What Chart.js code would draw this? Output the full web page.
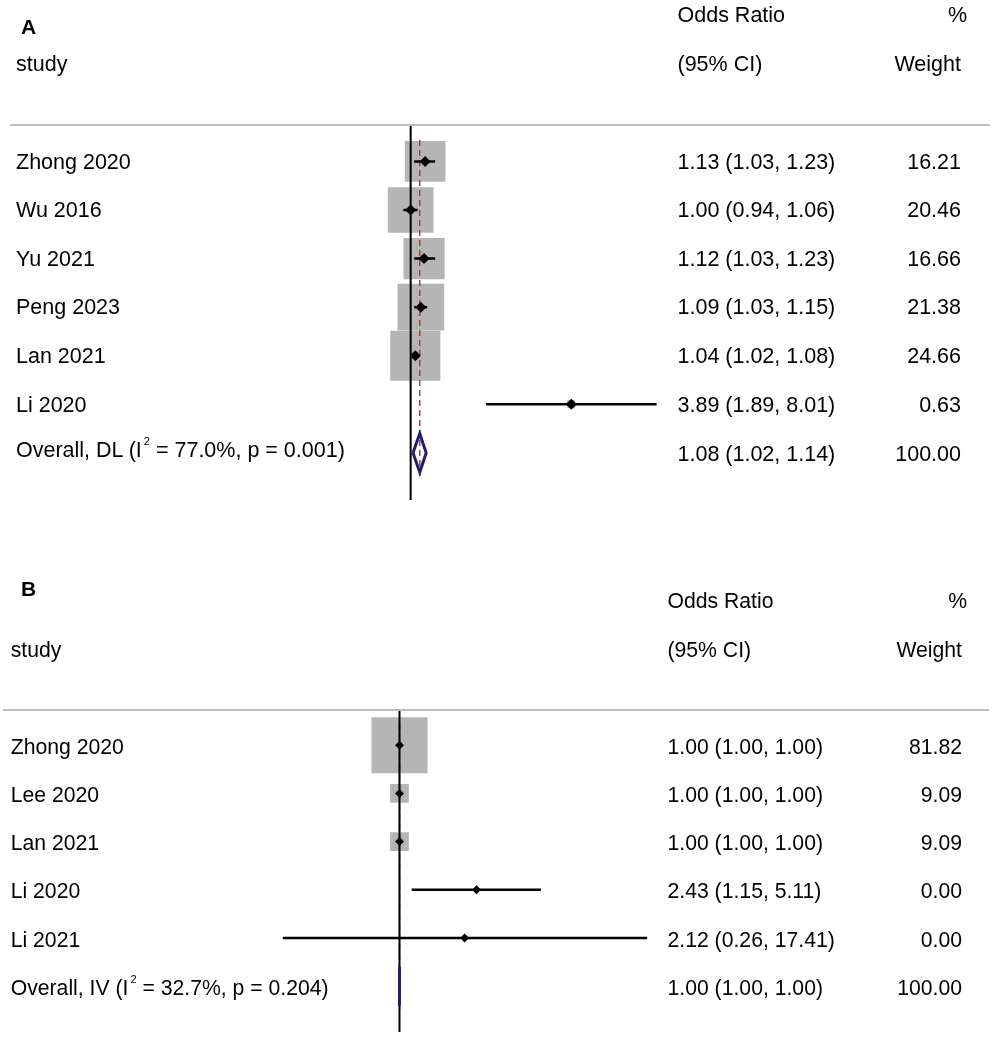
<!DOCTYPE html>
<html>
<head>
<meta charset="utf-8">
<title>Forest plots</title>
<script src="https://cdn.jsdelivr.net/npm/chart.js@4.4.1/dist/chart.umd.min.js"></script>
<style>
  body { margin: 0; background: #fff; }
  #page {
    position: relative; width: 999px; height: 1041px; overflow: hidden; background: #fff;
    font-family: "Liberation Sans", Arial, sans-serif; color: #000;
  }
  #page canvas { position: absolute; left: 0; }
  .txt { position: absolute; white-space: nowrap; }
  .bold { font-weight: bold; }
  .rule { position: absolute; height: 2px; background: #bdbdbd; }
  sup { font-size: 11px; line-height: 0; vertical-align: 12px; margin-left: 2px; }
</style>
</head>
<body>
<div id="page">
  <canvas id="forestA" width="999" height="520" style="top:0px"></canvas>
  <canvas id="forestB" width="999" height="481" style="top:560px"></canvas>
</div>
<script>
// Panel A - data
const studiesA = ['Zhong 2020', 'Wu 2016', 'Yu 2021', 'Peng 2023', 'Lan 2021', 'Li 2020'];
const orA = [1.13, 1.00, 1.12, 1.09, 1.04, 3.89];
const lowA = [1.03, 0.94, 1.03, 1.03, 1.02, 1.89];
const highA = [1.23, 1.06, 1.23, 1.15, 1.08, 8.01];
const weightA = [16.21, 20.46, 16.66, 21.38, 24.66, 0.63];
const overallA = [1.08, 1.02, 1.14]; // estimate, low, high
const overallLabelA = 'Overall, DL (I<sup>2</sup> = 77.0%, p = 0.001)';

// Panel B - data
const studiesB = ['Zhong 2020', 'Lee 2020', 'Lan 2021', 'Li 2020', 'Li 2021'];
const orB = [1.00, 1.00, 1.00, 2.43, 2.12];
const lowB = [1.00, 1.00, 1.00, 1.15, 0.26];
const highB = [1.00, 1.00, 1.00, 5.11, 17.41];
const weightB = [81.82, 9.09, 9.09, 0.00, 0.00];
const overallB = [1.00, 1.00, 1.00];
const overallLabelB = 'Overall, IV (I<sup>2</sup> = 32.7%, p = 0.204)';

// Column headers
const headerLeft = 'study';
const headerOR = ['Odds Ratio', '(95% CI)'];
const headerWeight = ['%', 'Weight'];

document.addEventListener('DOMContentLoaded', function() {
  const page = document.getElementById('page');
  const PAGE_W = 999;

  // Hàm thêm một dòng chữ, vị trí theo baseline
  function addText(html, x, baseline, align, size, cls) {
    const el = document.createElement('div');
    el.className = 'txt' + (cls ? ' ' + cls : '');
    el.innerHTML = html;
    el.style.fontSize = size + 'px';
    el.style.lineHeight = size + 'px';
    el.style.top = (baseline - 0.8465 * size) + 'px';
    if (align === 'right') {
      el.style.right = (PAGE_W - x) + 'px';
    } else {
      el.style.left = x + 'px';
    }
    page.appendChild(el);
  }

  function addRule(left, top, width) {
    const el = document.createElement('div');
    el.className = 'rule';
    el.style.left = left + 'px';
    el.style.top = top + 'px';
    el.style.width = width + 'px';
    page.appendChild(el);
  }

  // Hàm vẽ một forest plot
  function buildForest(canvasId, p) {
    const n = p.studies.length;
    const fs = p.fontSize;
    const datasets = [];

    // overall diamond
    const est = p.overall[0], lo = p.overall[1], hi = p.overall[2];
    datasets.push({
      data: [
        { x: lo, y: n }, { x: est, y: n - 0.4 }, { x: hi, y: n },
        { x: est, y: n + 0.4 }, { x: lo, y: n }
      ],
      showLine: true,
      borderColor: '#1e1e6e',
      borderWidth: 3,
      borderJoinStyle: 'miter',
      pointRadius: 0,
      tension: 0,
      order: 0
    });

    // point estimates
    datasets.push({
      data: p.or.map((v, i) => ({ x: v, y: i })),
      pointStyle: 'rectRot',
      pointRadius: p.dotRadius,
      backgroundColor: '#000',
      borderWidth: 0,
      order: 1
    });

    // confidence intervals
    p.studies.forEach((s, i) => {
      datasets.push({
        data: [{ x: p.low[i], y: i }, { x: p.high[i], y: i }],
        showLine: true,
        borderColor: '#000',
        borderWidth: 2.5,
        pointRadius: 0,
        order: 2
      });
    });

    // null line (OR = 1)
    datasets.push({
      data: [{ x: 1, y: p.yMin }, { x: 1, y: p.yMax }],
      showLine: true,
      borderColor: '#000',
      borderWidth: 2,
      pointRadius: 0,
      order: 3
    });

    // overall estimate line
    datasets.push({
      data: [{ x: est, y: -0.44 }, { x: est, y: n + 0.52 }],
      showLine: true,
      borderColor: '#9e4444',
      borderWidth: 1.5,
      borderDash: [6, 4],
      pointRadius: 0,
      order: 4
    });

    // weight boxes
    datasets.push({
      data: p.or.map((v, i) => ({ x: v, y: i })),
      pointStyle: 'rect',
      pointRadius: p.weight.map(w => p.boxScale * Math.sqrt(w) / Math.SQRT2),
      backgroundColor: '#b5b5b5',
      borderWidth: 0,
      order: 5
    });

    const chart = new Chart(document.getElementById(canvasId), {
      type: 'scatter',
      data: { datasets: datasets },
      options: {
        responsive: false,
        animation: false,
        events: [],
        layout: { padding: p.padding, autoPadding: false },
        plugins: {
          legend: { display: false },
          tooltip: { enabled: false }
        },
        scales: {
          x: { type: 'logarithmic', min: p.xMin, max: p.xMax, bounds: 'data', display: false },
          y: { type: 'linear', min: p.yMin, max: p.yMax, bounds: 'data', reverse: true, display: false }
        }
      }
    });

    // Hiển thị chữ theo hàng của trục y
    const yScale = chart.scales.y;
    const rowBase = i => p.top + yScale.getPixelForValue(i) + 8.5;

    p.studies.forEach((s, i) => {
      addText(s, p.textLeft, rowBase(i), 'left', fs);
      addText(p.or[i].toFixed(2) + ' (' + p.low[i].toFixed(2) + ', ' + p.high[i].toFixed(2) + ')',
        p.orLeft, rowBase(i), 'left', fs);
      addText(p.weight[i].toFixed(2), p.weightRight, rowBase(i), 'right', fs);
    });
    addText(p.overallLabel, p.textLeft, rowBase(n) + p.overallShift, 'left', fs);
    addText(est.toFixed(2) + ' (' + lo.toFixed(2) + ', ' + hi.toFixed(2) + ')',
      p.orLeft, rowBase(n) + p.overallShiftRight, 'left', fs);
    addText((100).toFixed(2), p.weightRight, rowBase(n) + p.overallShiftRight, 'right', fs);

    // Tiêu đề
    addText(p.panel, 21, p.head[0], 'left', 21, 'bold');
    addText(headerLeft, p.textLeft, p.head[2], 'left', fs);
    addText(headerOR[0], p.orLeft, p.head[1], 'left', fs);
    addText(headerOR[1], p.orLeft, p.head[2], 'left', fs);
    addText(headerWeight[0], 967, p.head[1], 'right', fs);
    addText(headerWeight[1], p.weightRight, p.head[2], 'right', fs);
    addRule(p.rule[0], p.rule[1], p.rule[2]);
  }

  buildForest('forestA', {
    panel: 'A',
    studies: studiesA, or: orA, low: lowA, high: highA, weight: weightA,
    overall: overallA, overallLabel: overallLabelA,
    xMin: 0.7, xMax: 9.2, yMin: -0.75, yMax: 6.97,
    padding: { left: 368.5, right: 326, top: 125, bottom: 20 },
    top: 0, boxScale: 10.1, dotRadius: 5.5, fontSize: 21.5,
    textLeft: 16, orLeft: 677.5, weightRight: 961,
    overallShift: -3, overallShiftRight: 1,
    head: [33.3, 23.3, 72.3],
    rule: [10, 124, 980]
  });

  buildForest('forestB', {
    panel: 'B',
    studies: studiesB, or: orB, low: lowB, high: highB, weight: weightB,
    overall: overallB, overallLabel: overallLabelB,
    xMin: 0.225, xMax: 20, yMin: -0.73, yMax: 5.95,
    padding: { left: 270.2, right: 339.8, top: 150, bottom: 9 },
    top: 560, boxScale: 6.2, dotRadius: 4.5, fontSize: 21.2,
    textLeft: 10.7, orLeft: 667.5, weightRight: 962,
    overallShift: 0, overallShiftRight: 0,
    head: [596, 608.3, 657.3],
    rule: [3, 708.5, 986]
  });
});
</script>
</body>
</html>
